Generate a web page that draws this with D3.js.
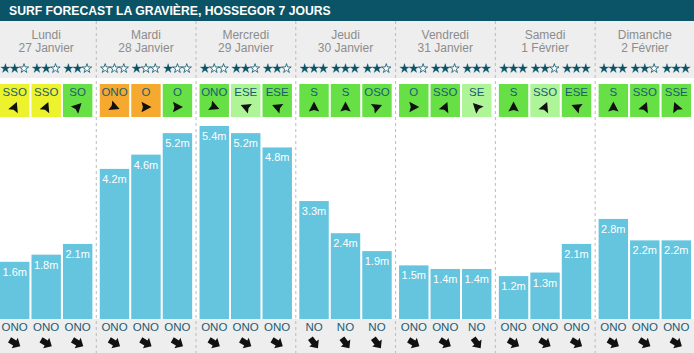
<!DOCTYPE html>
<html>
<head>
<meta charset="utf-8">
<script src="https://cdn.jsdelivr.net/npm/d3@7"></script>
<style>
  body { margin: 0; background: #fff; }
  svg { display: block; font-family: "Liberation Sans", Arial, sans-serif; }
</style>
</head>
<body>
<svg width="694" height="353"></svg>
<script>
'use strict';

// forecast data, 3 slots per day
const days = ["Lundi", "Mardi", "Mercredi", "Jeudi", "Vendredi", "Samedi", "Dimanche"];
const dates = ["27 Janvier", "28 Janvier", "29 Janvier", "30 Janvier", "31 Janvier", "1 Février", "2 Février"];
const waveHeights = [
  [1.6, 1.8, 2.1], [4.2, 4.6, 5.2], [5.4, 5.2, 4.8], [3.3, 2.4, 1.9],
  [1.5, 1.4, 1.4], [1.2, 1.3, 2.1], [2.8, 2.2, 2.2]
];
const stars = [
  [2, 2, 2], [0, 1, 1], [1, 2, 2], [3, 3, 2], [2, 2, 3], [3, 2, 3], [3, 2, 3]
];
const windDir = [
  ["SSO", "SSO", "SO"], ["ONO", "O", "O"], ["ONO", "ESE", "ESE"], ["S", "S", "OSO"],
  ["O", "SSO", "SE"], ["S", "SSO", "ESE"], ["S", "SSO", "SSE"]
];
// 0 = orange, 1 = yellow, 2 = light green, 3 = green
const windQuality = [
  [1, 1, 3], [0, 0, 3], [3, 2, 3], [3, 3, 3], [3, 3, 2], [3, 2, 3], [3, 3, 3]
];
const swellDir = [
  ["ONO", "ONO", "ONO"], ["ONO", "ONO", "ONO"], ["ONO", "ONO", "ONO"], ["NO", "NO", "NO"],
  ["ONO", "ONO", "NO"], ["ONO", "ONO", "ONO"], ["ONO", "ONO", "ONO"]
];

const compass = {N:0, NNE:22.5, NE:45, ENE:67.5, E:90, ESE:112.5, SE:135, SSE:157.5,
  S:180, SSO:202.5, SO:225, OSO:247.5, O:270, ONO:292.5, NO:315, NNO:337.5};
const windColor = ["#f5a92e", "#ecf22b", "#aef598", "#67e046"];

const svg = d3.select("svg");
const width = parseFloat(svg.attr("width"));
const height = parseFloat(svg.attr("height"));

const titleH = 21;
const headBottom = 78;
const baseY = 319;
const teal = "#0b5468";

const x = d3.scaleBand().domain(d3.range(days.length)).range([0, 691]).paddingInner(0.074);
const xs = d3.scaleBand().domain([0, 1, 2]).range([0, x.bandwidth()]).paddingInner(0.065);
const y = d3.scaleLinear().domain([0, 5.4]).range([baseY, 126]);

// backgrounds
svg.append("rect").attr("width", width).attr("height", titleH).attr("fill", teal);
svg.append("rect").attr("y", titleH).attr("width", width).attr("height", headBottom - titleH).attr("fill", "#eeeeee");
svg.append("rect").attr("y", baseY).attr("width", width).attr("height", height - baseY).attr("fill", "#eeeeee");

svg.append("text")
    .attr("x", 9).attr("y", 15)
    .attr("fill", "#fff")
    .attr("font-size", 12.2).attr("font-weight", "bold")
    .text("SURF FORECAST LA GRAVIÈRE, HOSSEGOR 7 JOURS");

// separators
svg.selectAll("line.sep").data(d3.range(1, days.length)).join("line")
    .attr("class", "sep")
    .attr("x1", d => x(d) - 3.5).attr("x2", d => x(d) - 3.5)
    .attr("y1", titleH).attr("y2", height)
    .attr("stroke", "#bbb").attr("stroke-dasharray", "3,3");

const dayG = svg.selectAll("g.day").data(days).join("g")
    .attr("class", "day")
    .attr("transform", (d, i) => `translate(${x(i)},0)`);

dayG.append("text")
    .attr("x", x.bandwidth() / 2).attr("y", 39)
    .attr("text-anchor", "middle").attr("font-size", 12).attr("fill", "#8c8c8c")
    .text(d => d);
dayG.append("text")
    .attr("x", x.bandwidth() / 2).attr("y", 52)
    .attr("text-anchor", "middle").attr("font-size", 12).attr("fill", "#8c8c8c")
    .text((d, i) => dates[i]);

const slots = dayG.selectAll("g.slot")
    .data((d, i) => [0, 1, 2].map(j => ({i, j})))
    .join("g")
    .attr("class", "slot")
    .attr("transform", d => `translate(${xs(d.j)},0)`);

const bw = xs.bandwidth();

// stars
const starPath = d3.symbol().type(d3.symbolStar).size(27)();
slots.each(function(d) {
  const g = d3.select(this);
  for (let k = 0; k < 3; k++) {
    const on = k < stars[d.i][d.j];
    g.append("path")
        .attr("d", starPath)
        .attr("transform", `translate(${bw / 2 + (k - 1) * 9.3},68.5)`)
        .attr("fill", on ? teal : "#fff")
        .attr("stroke", teal)
        .attr("stroke-width", on ? 0.3 : 0.8);
  }
});

// wind boxes
slots.append("rect")
    .attr("y", 84).attr("width", bw).attr("height", 33)
    .attr("fill", d => windColor[windQuality[d.i][d.j]]);
slots.append("text")
    .attr("x", bw / 2).attr("y", 96)
    .attr("text-anchor", "middle").attr("font-size", 11.5).attr("fill", "#1b5c72")
    .text(d => windDir[d.i][d.j]);
// arrow points where the wind blows to
slots.append("path")
    .attr("d", "M5.5,0L-4.5,-5.2L-3,0L-4.5,5.2Z")
    .attr("fill", "#111")
    .attr("transform", d => `translate(${bw / 2},107) rotate(${compass[windDir[d.i][d.j]] + 90})`);

// wave bars
slots.append("rect")
    .attr("y", d => y(waveHeights[d.i][d.j]))
    .attr("width", bw)
    .attr("height", d => baseY - y(waveHeights[d.i][d.j]))
    .attr("fill", "#65c4de");
slots.append("text")
    .attr("x", bw / 2).attr("y", d => y(waveHeights[d.i][d.j]) + 14)
    .attr("text-anchor", "middle").attr("font-size", 11).attr("fill", "#fff")
    .text(d => waveHeights[d.i][d.j] + "m");

// swell direction
slots.append("text")
    .attr("x", bw / 2).attr("y", 331)
    .attr("text-anchor", "middle").attr("font-size", 11.5).attr("fill", "#1b5c72")
    .text(d => swellDir[d.i][d.j]);
slots.append("path")
    .attr("d", "M-6,-3L0,-3L0,-6L6.5,0L0,6L0,3L-6,3Z")
    .attr("fill", "#111")
    .attr("transform", d => `translate(${bw / 2},343) rotate(${compass[swellDir[d.i][d.j]] + 98})`);
</script>
</body>
</html>
